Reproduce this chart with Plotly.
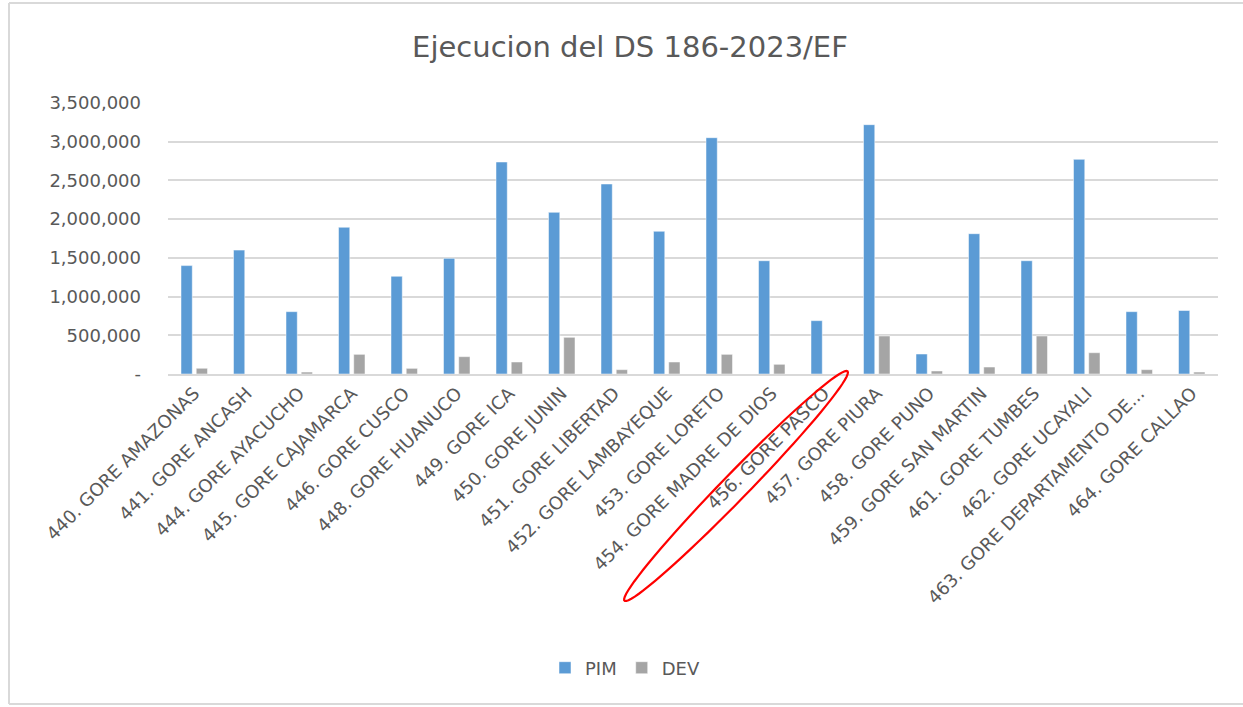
import numpy as np
import plotly.graph_objects as pgo

# Data
categories = [
    "440. GORE AMAZONAS", "441. GORE ANCASH", "444. GORE AYACUCHO",
    "445. GORE CAJAMARCA", "446. GORE CUSCO", "448. GORE HUANUCO",
    "449. GORE ICA", "450. GORE JUNIN", "451. GORE LIBERTAD",
    "452. GORE LAMBAYEQUE", "453. GORE LORETO", "454. GORE MADRE DE DIOS",
    "456. GORE PASCO", "457. GORE PIURA", "458. GORE PUNO",
    "459. GORE SAN MARTIN", "461. GORE TUMBES", "462. GORE UCAYALI",
    "463. GORE DEPARTAMENTO DE...", "464. GORE CALLAO",
]
pim = [1400000, 1600000, 805000, 1895000, 1262000, 1494000, 2738000, 2088000,
       2454000, 1843000, 3052000, 1463000, 689000, 3220000, 258000, 1812000,
       1463000, 2772000, 805000, 820000]
dev = [74000, 0, 25000, 254000, 73000, 224000, 155000, 474000, 56000, 155000,
       254000, 125000, 0, 491000, 39000, 90000, 491000, 275000, 56000, 25000]
tick_vals = [0, 500000, 1000000, 1500000, 2000000, 2500000, 3000000, 3500000]
tick_text = ["-", "500,000", "1,000,000", "1,500,000", "2,000,000",
             "2,500,000", "3,000,000", "3,500,000"]

# Layout geometry (pixels)
W, H = 1243, 707
ML, MR, MT, MB = 168, 25, 103, 333
PW, PH = W - ML - MR, H - MT - MB
FONT = "DejaVu Sans"
GREY = "#595959"
BORDER = "#D9D9D9"


def px(x):
    return (x - ML) / PW


def py(y):
    return (H - MB - y) / PH


fig = pgo.Figure()
fig.add_trace(pgo.Bar(x=categories, y=pim, name="PIM", marker_color="#5B9BD5",
                      marker_line=dict(color="white", width=0.5)))
fig.add_trace(pgo.Bar(x=categories, y=dev, name="DEV", marker_color="#A5A5A5",
                      marker_line=dict(color="white", width=0.5)))

# Red hand-drawn ellipse around the PASCO label
cx, cy, a, b, ang = 736, 486, 160, 13, np.deg2rad(45.8)
t = np.linspace(0, 2 * np.pi, 80)
ex = cx + a * np.cos(t) * np.cos(ang) - b * np.sin(t) * np.sin(ang)
ey = cy - (a * np.cos(t) * np.sin(ang) + b * np.sin(t) * np.cos(ang))
path = "M " + " L ".join(f"{px(x):.5f},{py(y):.5f}" for x, y in zip(ex, ey)) + " Z"

# chart-area border: left, top and bottom edges (right edge is cut off)
border = [((9, 3), (9, 704)), ((9, 3), (W, 3)), ((9, 704), (W, 704))]
shapes = [dict(type="line", xref="paper", yref="paper",
               x0=px(p0[0]), y0=py(p0[1]), x1=px(p1[0]), y1=py(p1[1]),
               line=dict(color=BORDER, width=2), layer="below")
          for p0, p1 in border]
shapes.append(dict(type="path", xref="paper", yref="paper", path=path,
                   line=dict(color="red", width=2.2)))

fig.update_layout(
    width=W, height=H,
    margin=dict(l=ML, r=MR, t=MT, b=MB),
    paper_bgcolor="white", plot_bgcolor="white",
    font=dict(family=FONT, color=GREY, size=18),
    title=dict(text="Ejecucion del DS 186-2023/EF", x=630 / W, xref="container",
               xanchor="center", y=1 - 47 / H, yref="container", yanchor="middle",
               font=dict(size=29, color=GREY, family=FONT)),
    barmode="group", bargap=0.42, bargroupgap=0.26,
    showlegend=True,
    legend=dict(orientation="h", x=px(625), xanchor="center", y=py(668),
                yanchor="middle", font=dict(size=18, color=GREY),
                itemwidth=30, tracegroupgap=0),
    xaxis=dict(tickangle=-45, showgrid=False, showline=True, linecolor=BORDER,
               linewidth=1.5, ticks="", tickfont=dict(size=18, color=GREY)),
    yaxis=dict(range=[0, 3500000], tickvals=tick_vals, ticktext=tick_text,
               showgrid=True, gridcolor=BORDER, gridwidth=1.5, zeroline=False,
               showline=False, ticks="", ticklabelstandoff=26,
               tickfont=dict(size=18, color=GREY)),
    shapes=shapes,
)

# drop the page's default 8px body margin so the figure sits at the window origin
fig.write_html("out.html", config={"displayModeBar": False},
               post_script="document.body.style.margin='0';")
